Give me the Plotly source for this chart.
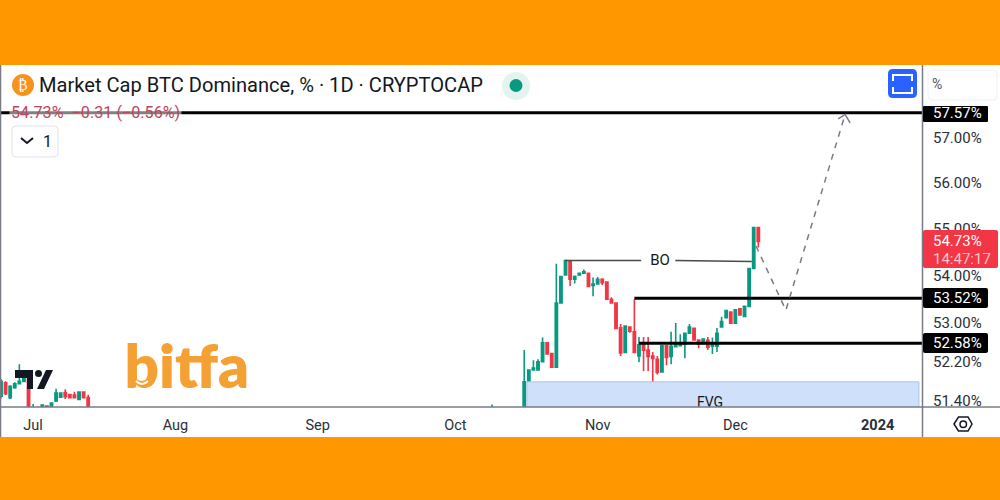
import math
import pandas as pd
import plotly.graph_objects as go

# ---------- data ----------
dates_a = pd.date_range("2023-06-24", "2023-07-13").strftime("%Y-%m-%d").tolist()
dates_b = ["2023-10-09"]
dates_c = pd.date_range("2023-10-16", "2023-12-06").strftime("%Y-%m-%d").tolist()
dates = dates_a + dates_b + dates_c

opens = [51.50,51.77,51.47,51.67,51.75,51.80,51.84,51.10,51.20,51.20,51.30,51.20,51.40,51.48,51.57,51.53,51.52,51.43,51.58,51.47,
         51.10,
         51.10,51.78,52.03,52.03,52.20,52.59,52.37,52.09,53.42,54.01,54.29,53.92,54.01,54.05,54.05,53.79,53.82,53.92,53.86,53.50,53.42,
         52.90,52.39,52.92,52.82,52.32,52.55,52.44,52.32,52.25,51.99,52.53,52.31,52.51,52.53,52.56,52.79,52.89,52.65,52.57,52.64,52.52,
         52.52,52.92,53.11,53.23,53.00,53.30,53.14,53.35,54.15,55.03]
highs = [51.85,51.80,51.72,51.78,52.15,51.88,51.86,51.34,51.22,51.33,51.31,51.37,51.65,51.57,51.64,51.54,51.59,51.59,51.59,51.53,
         51.33,
         52.44,52.04,52.23,52.25,52.70,52.60,52.38,54.25,53.99,54.34,54.33,54.00,54.06,54.13,54.06,53.96,53.97,53.94,53.87,53.54,53.43,
         52.98,52.95,52.93,53.50,52.71,52.71,52.71,52.40,52.32,52.54,52.54,52.82,53.00,52.77,52.80,52.98,52.90,52.66,52.68,52.71,52.70,
         52.90,53.13,53.27,53.24,53.29,53.31,53.36,54.16,55.04,55.04]
lows = [51.45,51.52,51.44,51.65,51.74,51.78,51.15,51.05,51.10,51.15,51.15,51.15,51.38,51.47,51.44,51.46,51.46,51.42,51.45,51.15,
        51.05,
        51.00,51.77,52.02,52.02,52.19,52.35,52.08,52.08,53.41,54.00,53.78,53.83,54.00,54.04,53.76,53.56,53.81,53.80,53.49,53.41,52.88,
        52.32,52.38,52.80,52.38,52.19,52.01,52.01,51.68,51.94,51.98,52.13,52.15,52.50,52.52,52.27,52.78,52.64,52.48,52.56,52.44,52.36,
        52.40,52.91,53.10,52.99,52.99,53.16,53.13,53.34,54.14,54.60]
closes = [51.80,51.55,51.70,51.75,51.80,51.85,51.20,51.20,51.15,51.32,51.20,51.36,51.56,51.56,51.49,51.47,51.47,51.58,51.47,51.20,
          51.20,
          51.79,52.03,52.07,52.20,52.59,52.36,52.09,53.42,53.98,54.32,53.92,53.98,54.05,54.08,53.77,53.82,53.92,53.85,53.50,53.42,52.89,
          52.38,52.94,52.83,52.39,52.55,52.44,52.31,52.27,51.98,52.53,52.29,52.52,52.56,52.58,52.79,52.92,52.65,52.56,52.67,52.50,52.57,
          52.79,53.03,53.26,53.00,53.28,53.17,53.35,54.15,55.03,54.73]

y_ticks = [57.00, 56.00, 55.00, 54.00, 53.00, 52.20, 51.40]
x_ticks = ["2023-07-01","2023-08-01","2023-09-01","2023-10-01","2023-11-01","2023-12-01","2024-01-01"]
x_labels = ["Jul","Aug","Sep","Oct","Nov","Dec","<b>2024</b>"]
x_start, x_end = "2023-06-24", "2024-01-10 16:00"
y_low, y_high = 51.28, 58.66

target_level = 57.57
upper_level = 53.52
lower_level = 52.58
last_price = 54.73
upper_start = "2023-11-09"
lower_start = "2023-11-10"

bo_x = ["2023-10-25", "2023-11-10 12:00"]
bo2_x = ["2023-11-17 22:00", "2023-12-04 14:00"]
bo_y = [54.32, 54.32]
bo2_y = [54.32, 54.30]
fvg_x = ["2023-10-16 14:00", "2024-01-10"]
fvg_y = [51.10, 51.79]
path_x = ["2023-12-05 12:00", "2023-12-12", "2023-12-24 22:00"]
path_y = [54.63, 53.27, 57.53]
head_x = ["2023-12-23 10:00", "2023-12-24 22:00", "2023-12-26"]
head_y = [57.43, 57.53, 57.34]

GREEN, RED = "#089981", "#F23645"
FONT = "Roboto"
L, R, T, B = 1, 922, 65, 407


def px(v):
    return (v - L) / (R - L)


def py(v):
    return (B - v) / (B - T)


def rr(x0, y0, x1, y1, r):
    a, b, c, d = px(x0), py(y0), px(x1), py(y1)
    ax, ay = px(x0 + r), py(y0 + r)
    bx, by = px(x1 - r), py(y1 - r)
    return (f"M {ax} {b} L {bx} {b} Q {c} {b} {c} {ay} L {c} {by} Q {c} {d} {bx} {d} "
            f"L {ax} {d} Q {a} {d} {a} {by} L {a} {ay} Q {a} {b} {ax} {b} Z")


def poly(points, close=False):
    s = " ".join(("M" if i == 0 else "L") + f" {px(x)} {py(y)}" for i, (x, y) in enumerate(points))
    return s + (" Z" if close else "")


fig = go.Figure()
fig.add_trace(go.Scatter(x=[fvg_x[0], fvg_x[1], fvg_x[1], fvg_x[0], fvg_x[0]],
                         y=[fvg_y[0], fvg_y[0], fvg_y[1], fvg_y[1], fvg_y[0]],
                         mode="lines", fill="toself", fillcolor="#CFE0FB",
                         line=dict(color="#A9C6E6", width=1), hoverinfo="skip"))
fig.add_trace(go.Candlestick(x=dates, open=opens, high=highs, low=lows, close=closes,
                             increasing=dict(line=dict(color=GREEN, width=1.6), fillcolor=GREEN),
                             decreasing=dict(line=dict(color=RED, width=1.6), fillcolor=RED),
                             hoverinfo="skip"))
for xs, ys, w, c, dash in [
    ([x_start, x_end], [target_level] * 2, 3, "#000000", "solid"),
    ([upper_start, x_end], [upper_level] * 2, 3, "#000000", "solid"),
    ([lower_start, x_end], [lower_level] * 2, 3, "#000000", "solid"),
    (bo_x, bo_y, 1.5, "#4a4a4a", "solid"),
    (bo2_x, bo2_y, 1.5, "#4a4a4a", "solid"),
    (path_x, path_y, 1.5, "#787B86", "6px,6px"),
    (head_x, head_y, 1.5, "#787B86", "solid"),
]:
    fig.add_trace(go.Scatter(x=xs, y=ys, mode="lines", line=dict(color=c, width=w, dash=dash), hoverinfo="skip"))
fig.add_trace(go.Scatter(x=["2023-11-25 12:00"], y=[51.36], mode="text", text=["FVG"],
                         textfont=dict(family=FONT, size=14, color="#131722"),
                         cliponaxis=True, hoverinfo="skip"))
fig.add_trace(go.Scatter(x=["2023-11-14 14:00"], y=[54.31], mode="text", text=["BO"],
                         textfont=dict(family=FONT, size=15, color="#131722"), hoverinfo="skip"))
fig.add_trace(go.Scatter(x=["2023-08-03 12:00"], y=[51.97], mode="text", text=["bitfa"],
                         textfont=dict(family="Lato", size=60, color="#F5A033", weight=800), hoverinfo="skip"))

P = dict(xref="paper", yref="paper")
shapes = [
    dict(type="rect", x0=px(0), x1=px(1000), y0=py(65), y1=py(437), fillcolor="#FFFFFF", line_width=0, layer="below", **P),
    # frame lines
    dict(type="line", x0=px(0), x1=px(1000), y0=py(407), y1=py(407), line=dict(color="#787B86", width=1.5), **P),
    dict(type="line", x0=px(922.5), x1=px(922.5), y0=py(65), y1=py(437), line=dict(color="#787B86", width=1.5), **P),
    dict(type="line", x0=px(0.5), x1=px(0.5), y0=py(65), y1=py(437), line=dict(color="#787B86", width=1.5), **P),
    # tags
    dict(type="path", path=rr(923, 106, 988, 122, 1), fillcolor="#000000", line_width=0, **P),
    dict(type="path", path=rr(923, 288, 988, 308, 2), fillcolor="#000000", line_width=0, **P),
    dict(type="path", path=rr(923, 333, 988, 353, 2), fillcolor="#000000", line_width=0, **P),
    dict(type="path", path=rr(923, 230, 998, 268, 2), fillcolor=RED, line_width=0, **P),
    # header icon
    dict(type="circle", x0=px(12), x1=px(34), y0=py(74), y1=py(96), fillcolor="#F7931A", line_width=0, **P),
    dict(type="circle", x0=px(502), x1=px(530), y0=py(72), y1=py(100), fillcolor="#E3F3F0", line_width=0, **P),
    dict(type="circle", x0=px(509.5), x1=px(522.5), y0=py(79), y1=py(92), fillcolor=GREEN, line_width=0, **P),
    # collapse button
    dict(type="path", path=rr(12, 126, 58, 157, 4), fillcolor="#FFFFFF", line=dict(color="#E0E3EB", width=1), **P),
    dict(type="path", path=poly([(21, 138), (27, 143), (33, 138)]), line=dict(color="#131722", width=2), **P),
    # blue button
    dict(type="path", path=rr(888, 69, 917, 98, 5), fillcolor="#2962FF", line_width=0, **P),
    dict(type="path", path=poly([(893, 81), (893, 75), (912, 75), (912, 81)]), line=dict(color="#FFFFFF", width=2), **P),
    dict(type="path", path=poly([(893, 87), (893, 93), (912, 93), (912, 87)]), line=dict(color="#FFFFFF", width=2), **P),
    # percent box
    dict(type="path", path=rr(928, 70, 997, 100, 4), fillcolor="#FFFFFF", line=dict(color="#EEF0F3", width=1), **P),
    # settings hexagon
    dict(type="path", path=poly([(954, 424), (958.5, 417), (968, 417), (972, 424), (968, 431), (958.5, 431)], True),
         line=dict(color="#131722", width=1.5), **P),
    dict(type="circle", x0=px(960), x1=px(966.5), y0=py(421), y1=py(427.5), line=dict(color="#131722", width=1.5), **P),
    # TradingView mark
    dict(type="path", path=poly([(15, 370), (33, 370), (33, 389), (27, 389), (27, 378), (15, 378)], True),
         fillcolor="#131722", line_width=0, **P),
    dict(type="circle", x0=px(35), x1=px(42), y0=py(370), y1=py(377), fillcolor="#131722", line_width=0, **P),
    dict(type="path", path=poly([(46, 370), (53, 370), (44, 389), (37, 389)], True), fillcolor="#131722", line_width=0, **P),
    # smile in the bitfa mark
    dict(type="path", path=f"M {px(136)} {py(381)} Q {px(142)} {py(387)} {px(148)} {py(381)}",
         line=dict(color="#FFFFFF", width=2), **P),
]


def note(text, x, y, size, color, anchor="left", family=FONT, weight=None, **kw):
    f = dict(family=family, size=size, color=color)
    if weight:
        f["weight"] = weight
    return dict(text=text, x=px(x), y=py(y), xref="paper", yref="paper", xanchor=anchor, yanchor="middle",
                showarrow=False, font=f, **kw)


def tag(value, x):
    return dict(text=f"{value:.2f}%", x=px(x), y=math.log10(value), xref="paper", yref="y", xanchor="left",
                yanchor="middle", showarrow=False, font=dict(family=FONT, size=15, color="#FFFFFF"))


annotations = [
    note("Market Cap BTC Dominance, % · 1D · CRYPTOCAP", 37, 85, 20.1, "#131722"),
    note("₿", 23, 85, 14, "#FFFFFF", anchor="center", family="DejaVu Sans"),
    note("54.73%  −0.31 (−0.56%)", 9, 112, 16.2, "#B9475E", bgcolor="rgba(255,255,255,0.5)"),
    note("1", 47, 141, 16, "#131722", anchor="center"),
    note("%", 930, 84, 14, "#50535E"),
    tag(target_level, 931),
    tag(upper_level, 931),
    tag(lower_level, 931),
    note(f"{last_price:.2f}%", 931, 241, 15, "#FFFFFF"),
    note("14:47:17", 931, 259, 15, "#F9C4CB"),
]

fig.update_layout(
    width=1000, height=500, autosize=False,
    margin=dict(l=L, r=1000 - R, t=T, b=500 - B, pad=0),
    paper_bgcolor="#FF9800", plot_bgcolor="#FFFFFF", showlegend=False,
    shapes=shapes, annotations=annotations,
    xaxis=dict(type="date", range=[x_start, x_end], rangeslider=dict(visible=False), showgrid=False, zeroline=False,
               tickmode="array", tickvals=x_ticks, ticktext=x_labels,
               ticks="outside", ticklen=5, tickcolor="rgba(0,0,0,0)",
               tickfont=dict(family=FONT, size=14.5, color="#2A2E39"), showline=False),
    yaxis=dict(type="log", side="right", range=[math.log10(y_low), math.log10(y_high)], showgrid=False, zeroline=False,
               tickmode="array", tickvals=y_ticks, ticktext=[f"{v:.2f}%" for v in y_ticks],
               ticks="outside", ticklen=7, tickcolor="rgba(0,0,0,0)",
               tickfont=dict(family=FONT, size=15, color="#2A2E39"), showline=False),
)
fig.write_html("out.html", config=dict(displayModeBar=False),
               post_script="document.body.style.margin='0';document.body.style.overflow='hidden';")
